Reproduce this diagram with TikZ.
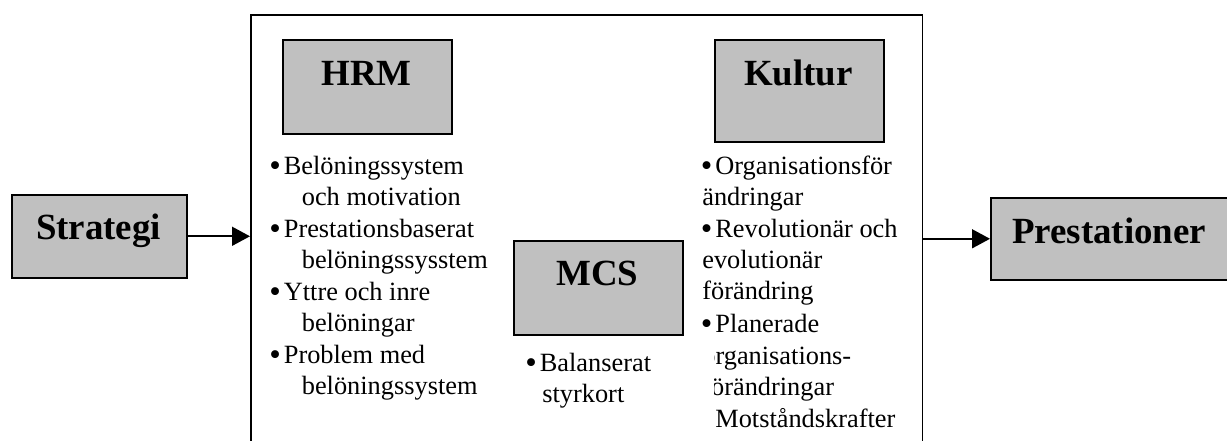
\documentclass[tikz,border=0pt]{standalone}
\usepackage{fontspec}
\usepackage{graphicx}
\setmainfont{Liberation Serif}
\usetikzlibrary{arrows.meta}
\definecolor{boxgrey}{RGB}{192,192,192}
% enlarged bullet in a fixed box so that item text lines up
\newcommand\itembullet{\makebox[0.29cm][l]{\raisebox{-1.7pt}{\scalebox{1.25}{\textbullet}}}}
\begin{document}
\begin{tikzpicture}[x=0.02cm,y=-0.02cm,
  frame/.style={draw=black, line width=0.9pt, anchor=north west, inner sep=0pt},
  greybox/.style={frame, fill=boxgrey},
  title/.style={font=\fontsize{21}{25}\selectfont\bfseries, anchor=base, inner sep=0pt},
  listline/.style={font=\fontsize{15}{18}\selectfont, anchor=base west, inner sep=0pt},
  link/.style={line width=0.9pt, -{Triangle[length=0.36cm,width=0.38cm]}}]
\useasboundingbox (0,0) rectangle (1227,440);

% enclosing frame
\node[frame, minimum width=13.44cm, minimum height=8.7cm] (core) at (250,14) {};

% grey boxes with their titles
\node[greybox, minimum width=3.5cm, minimum height=1.66cm] (strategi) at (11,194) {};
\node[title] (strategiT) at (98.5,239) {Strategi};

\node[greybox, minimum width=5.0cm, minimum height=1.64cm] (prest) at (990,197) {};
\node[title] (prestT) at (1109,243) {Prestationer};

\node[greybox, minimum width=3.38cm, minimum height=1.88cm] (hrm) at (282,39) {};
\node[title] (hrmT) at (366.5,85) {HRM};

\node[greybox, minimum width=3.38cm, minimum height=2.04cm] (kultur) at (714,39) {};
\node[title] (kulturT) at (798.5,85) {Kultur};

\node[greybox, minimum width=3.38cm, minimum height=1.88cm] (mcs) at (513,240) {};
\node[title] (mcsT) at (597.5,285) {MCS};

% connectors
\draw[link] (strategi.east) -- (strategi.east -| core.west);
\draw[link] (prest.west -| core.east) -- (prest.west);

% HRM list
\node[listline] (h1a) at (269,174) {\itembullet Belöningssystem};
\node[listline] (h1b) at (301.5,205.5) {och motivation};
\node[listline] (h2a) at (269,237) {\itembullet Prestationsbaserat};
\node[listline] (h2b) at (301.5,268.5) {belöningssysstem};
\node[listline] (h3a) at (269,300) {\itembullet Yttre och inre};
\node[listline] (h3b) at (301.5,331.5) {belöningar};
\node[listline] (h4a) at (269,363) {\itembullet Problem med};
\node[listline] (h4b) at (301.5,394.5) {belöningssystem};

% MCS list
\node[listline] (m1a) at (525,371) {\itembullet Balanserat};
\node[listline] (m1b) at (542,402) {styrkort};

% Kultur list
\node[listline] (k1a) at (700.5,174) {\itembullet Organisationsför};
\node[listline] (k1b) at (702,205) {ändringar};
\node[listline] (k2a) at (700.5,237) {\itembullet Revolutionär och};
\node[listline] (k2b) at (702,268) {evolutionär};
\node[listline] (k2c) at (702,299) {förändring};
\node[listline] (k3a) at (700.5,332) {\itembullet Planerade};
\begin{scope}
  \clip (714,342) rectangle (921,440);
  \node[listline] (k3b) at (702,364) {organisations-};
  \node[listline] (k3c) at (702,395) {förändringar};
  \node[listline] (k4a) at (700.5,427) {\itembullet Motståndskrafter};
\end{scope}
\end{tikzpicture}
\end{document}
